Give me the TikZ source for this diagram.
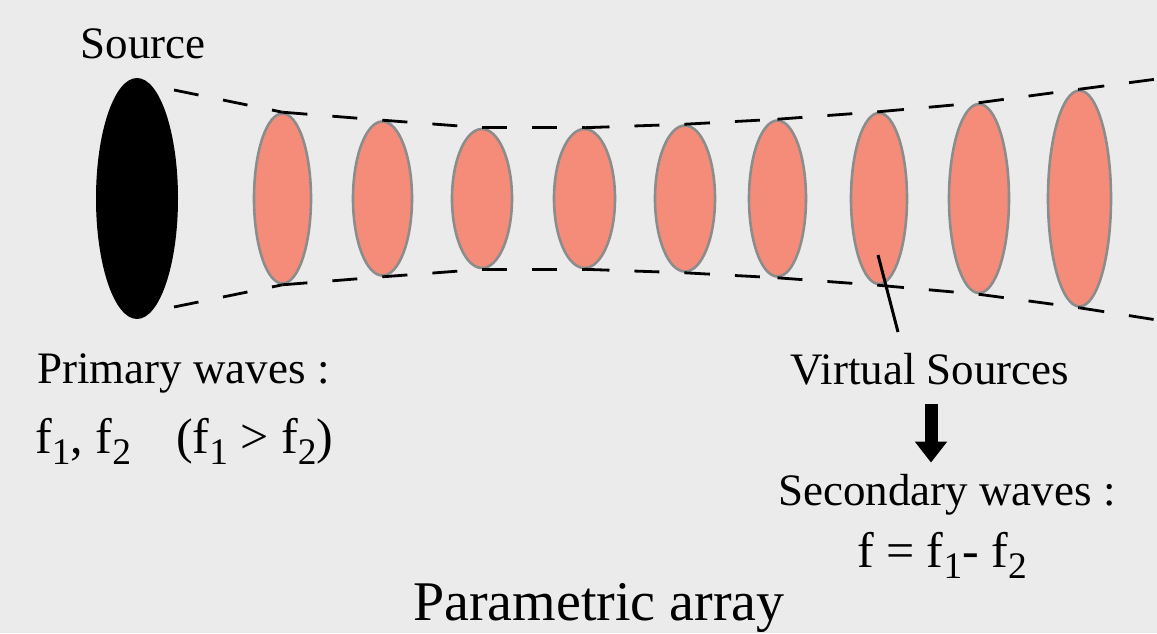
\documentclass[tikz,border=0pt]{standalone}
\usepackage{fontspec}
\setmainfont{Liberation Serif}
\usetikzlibrary{arrows.meta,shapes.geometric}

\definecolor{bggray}{HTML}{EBEBEB}
\definecolor{salmon}{HTML}{F58C7A}
\definecolor{rimgray}{HTML}{8C8C8C}
\newcommand{\sbs}[1]{\raisebox{-0.22em}{\scalebox{0.75}{#1}}}

\begin{document}
\begin{tikzpicture}[x=1pt, y=-1pt,
    srcell/.style={ellipse, fill=black, inner sep=0pt},
    virt/.style={ellipse, draw=rimgray, line width=2.6pt, fill=salmon, inner sep=0pt},
    beam/.style={dash pattern=on 25pt off 25pt, line width=2.8pt},
    lbl/.style={inner sep=0pt, anchor=base, font=\fontsize{45}{54}\selectfont},
    frm/.style={inner sep=0pt, anchor=base, font=\fontsize{50}{60}\selectfont},
    bigarrow/.style={line width=13pt, -{Triangle[width=31pt,length=21pt]}}
]
\fill[bggray] (0,0) rectangle (1157,633);
\useasboundingbox (0,0) rectangle (1157,633);

% source and virtual sources
\node[srcell, minimum width=82pt, minimum height=241pt] (src) at (137,198.5) {};
\foreach \n/\x/\w/\h in {1/282.5/57/170, 2/382.5/59/154, 3/482/60/139,
    4/584.5/61/139, 5/685/60/146, 6/777.5/57/156, 7/879/56/171,
    8/979/60/189, 9/1079.5/63/216}
  \node[virt, minimum width=\w pt, minimum height=\h pt] (v\n) at (\x,198.5) {};

% beam edges
\coordinate (tin)  at (174,90);
\coordinate (bin)  at (174,307);
\coordinate (tout) at (1157,79);
\coordinate (bout) at (1157,320);
\draw[beam] (tin) -- (v1.north);
\draw[beam] (bin) -- (v1.south);
\foreach \i/\j in {1/2,2/3,3/4,4/5,5/6,6/7,7/8,8/9} {
  \draw[beam] (v\i.north) -- (v\j.north);
  \draw[beam] (v\i.south) -- (v\j.south);
}
\draw[beam] (v9.north) -- (tout);
\draw[beam] (v9.south) -- (bout);

% labels
\node[lbl] (source) at (143,58) {Source};
\node[lbl, anchor=base west] (prim) at (37,383) {Primary waves :};
\node[frm, anchor=base west] (pfreq) at (35,453)
  {f\sbs{1}, f\sbs{2}\hspace{45pt}(f\sbs{1} > f\sbs{2})};
\node[lbl] (vs) at (930,384) {Virtual Sources};
\node[lbl] (sw) at (947,505) {Secondary waves :};
\node[frm] (sf) at (942,567) {f = f\sbs{1}- f\sbs{2}};
\node[lbl, font=\fontsize{56}{66}\selectfont] (title) at (599,620) {Parametric array};

% pointer and arrow
\coordinate (vtip)  at (878,255);
\coordinate (vfoot) at (898,332);
\draw[line width=3pt] (vtip) -- (vfoot);
\coordinate (ax) at (931,0);
\draw[bigarrow, shorten <=19pt, shorten >=11pt] (vs.south -| ax) -- (sw.north -| ax);
\end{tikzpicture}
\end{document}
